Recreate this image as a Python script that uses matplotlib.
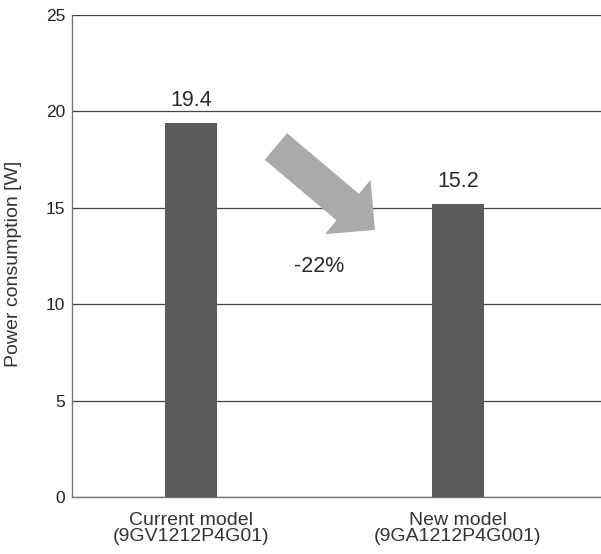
import matplotlib
matplotlib.use("Agg")
import matplotlib.pyplot as plt

categories = ["Current model\n(9GV1212P4G01)", "New model\n(9GA1212P4G001)"]
values = [19.4, 15.2]
value_labels = ["19.4", "15.2"]
change_label = "-22%"
y_ticks = [0, 5, 10, 15, 20, 25]

plt.rcParams['font.family'] = ['Liberation Sans', 'DejaVu Sans']

fig = plt.figure(figsize=(6.01, 5.54), dpi=100)
ax = fig.add_axes([72/601, 1-497/554, 529/601, (497-15)/554])

x = list(range(len(categories)))
bars = ax.bar(x, values, width=0.195, color='#5a5a5c', zorder=3)

ax.set_xlim(-0.446, 1.536)
ax.set_ylim(0, 25)
ax.set_yticks(y_ticks)
ax.set_yticklabels([str(t) for t in y_ticks], fontsize=12.5, color='#222222')
ax.set_xticks(x)
ax.set_xticklabels(categories, fontsize=14, color='#333333', linespacing=0.92)
ax.tick_params(axis='y', length=0, pad=5)
ax.tick_params(axis='x', length=0, pad=11)

ax.yaxis.grid(True, color='#444444', linewidth=0.9, zorder=1)
ax.set_axisbelow(True)
for s in ['top', 'right']:
    ax.spines[s].set_visible(False)
for s in ['left', 'bottom']:
    ax.spines[s].set_color('#777777')
    ax.spines[s].set_linewidth(1.0)

for xi, v, lab in zip(x, values, value_labels):
    ax.annotate(lab, xy=(xi, v), xytext=(0, 12), textcoords='offset points',
                ha='center', va='baseline', fontsize=15.5, color='#2a2a2a')

ax.set_ylabel("Power consumption [W]", fontsize=14, color='#333333')
ax.yaxis.set_label_coords(-0.094, 0.483)

ax.annotate('', xy=(0.689, 13.85), xytext=(0.318, 18.18),
            arrowprops=dict(arrowstyle='simple,head_length=25.6,head_width=51,tail_width=25',
                            color='#a9aaac', mutation_scale=1, shrinkA=0, shrinkB=0, lw=0),
            zorder=4)
ax.text(0.481, 11.67, change_label, ha='center', va='baseline', fontsize=15.5, color='#2a2a2a')

fig.savefig("out.png", dpi=100)
